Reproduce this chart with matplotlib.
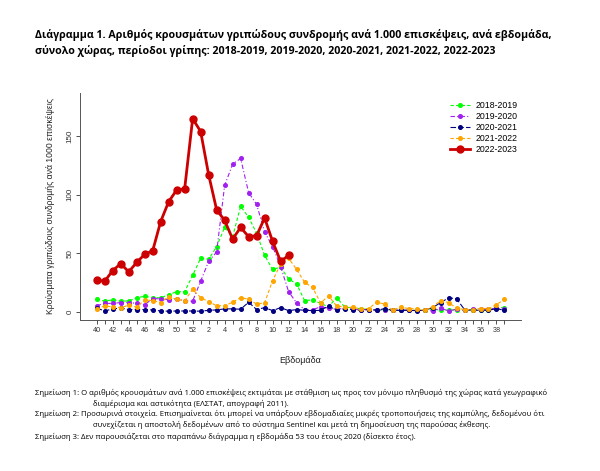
import matplotlib
matplotlib.use('Agg')
from matplotlib import pyplot as plt
import numpy as np

plt.rcParams['font.family'] = ['Liberation Sans', 'DejaVu Sans']

# εβδομάδες 40-52 και 1-39
weeks = list(range(40, 53)) + list(range(1, 40))

s2018 = [10.5, 9, 10, 9, 9, 12, 13, 12, 11.7, 14.5, 17, 17, 31, 45.6, 44.7, 55.6, 72, 64, 90, 80.6, 67, 48,
         36, 38, 28, 23.7, 9.4, 10, 7, 4, 12, 4, 3, 2.5, 1.7, 1.1, 1.7, 1, 1, 1, 1, 1, 2.5, 1, 1, 1.7, 1,
         1.7, 1.7, 1.7, 3.4, 3.4]
s2019 = [5, 7, 7, 7.7, 7.7, 7, 6, 11, 11, 10, 11, 9, 9, 26, 43, 51, 108, 126, 131, 101.7, 91.7, 68,
         55.6, 38.5, 17, 7.4, 1.7, 1.7, 4, 3, 2, 3, 2, 1.7, 1.7, 1.7, 1, 1, 1.5, 1, 1, 1, 0.5, 3, 0.5,
         2, 1, 2, 2, 2, 3, 2]
s2020 = [3, 0.5, 2.3, 3, 1.7, 1.7, 1.7, 1.4, 0.5, 0.3, 0.5, 0.5, 0.5, 0.3, 1.1, 1.4, 2.3, 2.3, 2, 8,
         1.7, 3.4, 0.8, 3.4, 0.8, 1.7, 1.1, 0.8, 1.1, 4.8, 1.1, 2.5, 1.7, 1.1, 1.7, 1.1, 2.5, 1.1, 1.1,
         1.1, 0.8, 1.1, 3.4, 7.6, 11.7, 11, 1.7, 1.1, 1.1, 1.1, 2.5, 1.1]
s2021 = [2, 5, 4, 3.4, 5.4, 4, 10, 9.4, 7.7, 12.8, 10.5, 9.4, 19, 12, 8.5, 5, 5, 8, 12, 10.5, 6.5, 7.5,
         26.5, 40.5, 45.6, 36, 25, 20.6, 7.4, 13.4, 4.8, 4, 3.5, 2.5, 2.5, 8, 6.5, 1, 4, 2.5, 2.5, 1, 4,
         9.4, 7.7, 3, 1.7, 1.7, 2.5, 2.5, 6, 10.5]
s2022 = [27, 26, 35, 41, 34, 42, 49, 52, 77, 94, 104, 105, 165, 154, 117, 87, 78, 62, 72, 64, 65, 80,
         60, 43, 48]

series_labels = ['2018-2019', '2019-2020', '2020-2021', '2021-2022', '2022-2023']

title = ('Διάγραμμα 1. Αριθμός κρουσμάτων γριπώδους συνδρομής ανά 1.000 επισκέψεις, ανά εβδομάδα,\n'
         'σύνολο χώρας, περίοδοι γρίπης: 2018-2019, 2019-2020, 2020-2021, 2021-2022, 2022-2023')
notes = [
    'Σημείωση 1: Ο αριθμός κρουσμάτων ανά 1.000 επισκέψεις εκτιμάται με στάθμιση ως προς τον μόνιμο πληθυσμό της χώρας κατά γεωγραφικό',
    'διαμέρισμα και αστικότητα (ΕΛΣΤΑΤ, απογραφή 2011).',
    'Σημείωση 2: Προσωρινά στοιχεία. Επισημαίνεται ότι μπορεί να υπάρξουν εβδομαδιαίες μικρές τροποποιήσεις της καμπύλης, δεδομένου ότι',
    'συνεχίζεται η αποστολή δεδομένων από το σύστημα Sentinel και μετά τη δημοσίευση της παρούσας έκθεσης.',
    'Σημείωση 3: Δεν παρουσιάζεται στο παραπάνω διάγραμμα η εβδομάδα 53 του έτους 2020 (δίσεκτο έτος).',
]

fig = plt.figure(figsize=(6, 4.71), dpi=100)
ax = fig.add_axes([0.134, 0.3206, 0.734, 0.4826])

x = np.arange(len(weeks))
ax.plot(x, s2018, color='#00FF00', ls=(0, (3, 2)), lw=0.8, marker='o', ms=2.6, label=series_labels[0])
ax.plot(x, s2019, color='#A020F0', ls=(0, (4, 2, 1, 2)), lw=0.8, marker='o', ms=2.6, label=series_labels[1])
ax.plot(x, s2020, color='#000080', ls=(0, (5, 2)), lw=0.8, marker='o', ms=2.6, label=series_labels[2])
ax.plot(x, s2021, color='#FFA500', ls=(0, (3, 2)), lw=0.8, marker='o', ms=2.6, label=series_labels[3])
ax.plot(np.arange(len(s2022)), s2022, color='#CC0000', ls='-', lw=2, marker='o', ms=5,
        label=series_labels[4])

ax.set_xlim(-2.04, 53.04)
ax.set_ylim(-7.2, 187.2)
ax.set_xticks(x)
ax.set_xticklabels([str(w) if i % 2 == 0 else '' for i, w in enumerate(weeks)], fontsize=5.2)
ax.set_yticks([0, 50, 100, 150])
ax.set_yticklabels(['0', '50', '100', '150'], fontsize=5.8, rotation=90, va='center')
ax.tick_params(length=3, width=0.6, pad=2, colors='#333333')
for s in ['top', 'right']:
    ax.spines[s].set_visible(False)
for s in ['left', 'bottom']:
    ax.spines[s].set_linewidth(0.7)
    ax.spines[s].set_color('#555555')

ax.set_xlabel('Εβδομάδα', fontsize=6.5, labelpad=16, color='#222222')
ax.set_ylabel('Κρούσματα γριπώδους συνδρομής ανά 1000 επισκέψεις', fontsize=6.2, labelpad=8, color='#222222')

ax.legend(loc='upper right', bbox_to_anchor=(1.01, 1.0), frameon=False, fontsize=6.3,
          handlelength=2.3, handletextpad=0.6, labelspacing=0.25)

fig.text(0.058, 0.938, title, fontsize=7.65, fontweight='bold', va='top', ha='left',
         family=['Open Sans', 'DejaVu Sans'], linespacing=1.45)

note_y = [393, 404, 414, 425, 437]
note_x = [35, 93, 35, 93, 35]
for t, yy, xx in zip(notes, note_y, note_x):
    fig.text(xx / 600, 1 - yy / 471, t, fontsize=5.55, va='center', ha='left',
             family=['Open Sans', 'DejaVu Sans'])

fig.savefig('out.png', dpi=100)
